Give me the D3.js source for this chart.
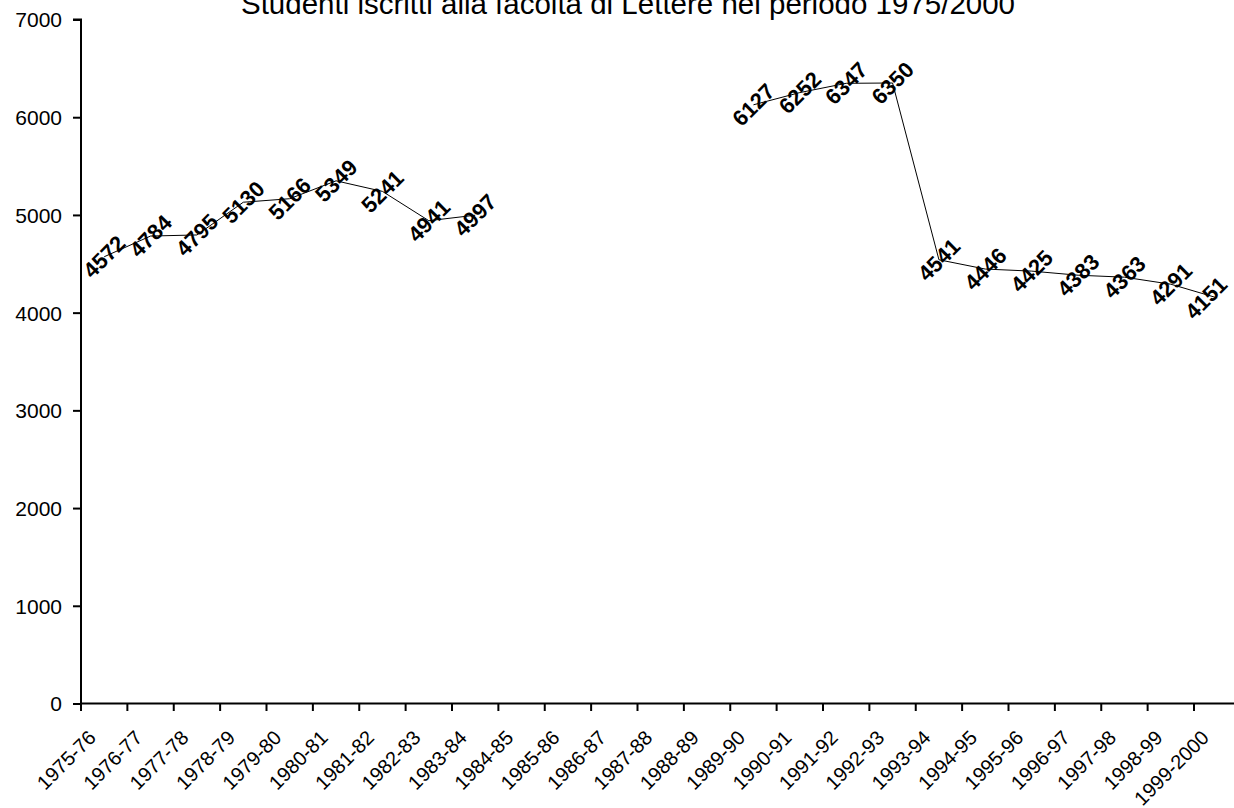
<!DOCTYPE html>
<html>
<head>
<meta charset="utf-8">
<script src="https://cdn.jsdelivr.net/npm/d3@7"></script>
<style>
  html, body { margin: 0; padding: 0; background: #fff; }
  svg { display: block; }
  text { font-family: "Liberation Sans", Arial, sans-serif; fill: #000; }
</style>
</head>
<body>
<svg id="chart" width="1234" height="808"></svg>
<script>
const title = "Studenti iscritti alla facoltà di Lettere nel periodo 1975/2000";
const categories = ["1975-76","1976-77","1977-78","1978-79","1979-80","1980-81","1981-82","1982-83","1983-84","1984-85","1985-86","1986-87","1987-88","1988-89","1989-90","1990-91","1991-92","1992-93","1993-94","1994-95","1995-96","1996-97","1997-98","1998-99","1999-2000"];
const values = [4572,4784,4795,5130,5166,5349,5241,4941,4997,null,null,null,null,null,6127,6252,6347,6350,4541,4446,4425,4383,4363,4291,4151];
const yTicks = [0,1000,2000,3000,4000,5000,6000,7000];

const svg = d3.select("#chart");
const W = 1234, H = 808;

const step = 46.375;
const x = d3.scaleBand().domain(categories).range([81, 81 + categories.length * step]).paddingInner(0).paddingOuter(0);
const y = d3.scaleLinear().domain([0, 7000]).range([703.5, 19.5]);

// Title
svg.append("text")
  .attr("x", 628).attr("y", 14)
  .attr("text-anchor", "middle")
  .style("font-size", "29.5px")
  .text(title);

// Y axis
const yAxis = d3.axisLeft(y).tickValues(yTicks).tickSize(8).tickPadding(11).tickFormat(d3.format("d"));
const gy = svg.append("g").attr("transform", "translate(81,0)").call(yAxis);
gy.select(".domain").attr("stroke", "#000").attr("stroke-width", 2).attr("d", `M-8,${y(7000)}H0V${y(0)+7.5}`);
gy.selectAll(".tick line").attr("stroke", "#000").attr("stroke-width", 2);
gy.selectAll(".tick text").style("font-size", "21px").attr("dy", "0.35em");

// X axis: ticks at category boundaries
const boundaries = categories.map(c => x(c));
svg.append("line")
  .attr("x1", 81).attr("x2", W).attr("y1", y(0)).attr("y2", y(0))
  .attr("stroke", "#000").attr("stroke-width", 2);
svg.append("g").selectAll("line").data(boundaries).join("line")
  .attr("x1", d => d).attr("x2", d => d)
  .attr("y1", y(0)).attr("y2", y(0) + 7.5)
  .attr("stroke", "#000").attr("stroke-width", 2);

svg.append("g").selectAll("text").data(categories).join("text")
  .attr("text-anchor", "end")
  .attr("transform", d => `translate(${x(d) + x.bandwidth()/2 - 7},${739}) rotate(-45)`)
  .style("font-size", "20px")
  .text(d => d);

// Line
const pts = categories.map((c, i) => ({c, v: values[i]}));
const line = d3.line()
  .defined(d => d.v != null)
  .x(d => x(d.c) + x.bandwidth()/2)
  .y(d => y(d.v));
svg.append("path").datum(pts)
  .attr("fill", "none").attr("stroke", "#000").attr("stroke-width", 1)
  .attr("d", line);

// Data labels
svg.append("g").selectAll("text").data(pts.filter(d => d.v != null)).join("text")
  .attr("text-anchor", "middle")
  .attr("dy", "0.35em")
  .attr("transform", d => {
    let cx = x(d.c) + x.bandwidth()/2;
    cx = Math.min(cx, 1206);
    return `translate(${cx},${y(d.v)}) rotate(-45)`;
  })
  .style("font-size", "22px").style("font-weight", "bold")
  .text(d => d.v);
</script>
</body>
</html>
